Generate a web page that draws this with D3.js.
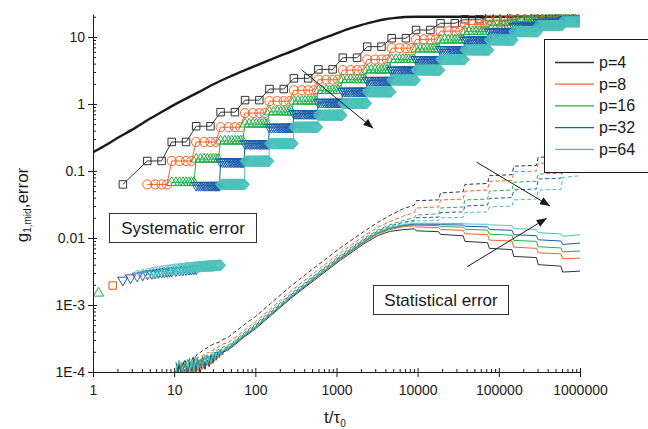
<!DOCTYPE html>
<html>
<head>
<meta charset="utf-8">
<script src="https://cdn.jsdelivr.net/npm/d3@7/dist/d3.min.js"></script>
<style>
  body { margin: 0; background: #fff; }
  svg { display: block; }
  text { font-family: "Liberation Sans", Arial, Helvetica, sans-serif; fill: #1a1a1a; }
</style>
</head>
<body>
<svg id="chart" width="648" height="429"></svg>
<script>
// ---------- data ----------
const pValues = [4, 8, 16, 32, 64];
const seriesColors = ["#333333", "#ff5f22", "#22b04b", "#1b5ca8", "#4ac2bb"];

// exact g1,mid curve
const exactT = [1, 1.5, 2, 3, 5, 7, 10, 20, 30, 50, 100, 200, 300, 500, 850, 1000, 1500, 2000, 3000, 4000, 5000, 7000, 10000, 100000, 1000000];
const exactV = [0.19, 0.25, 0.31, 0.41, 0.6, 0.76, 0.97, 1.5, 1.95, 2.6, 3.7, 5.2, 6.3, 8.2, 10.5, 11.3, 13.5, 15.0, 17.1, 18.4, 19.1, 19.8, 20.0, 20.0, 20.0];

// multiple-tau correlator: smallest lag, block k has lags (p/2 .. p-1) * lagUnit * 2^k
const lagUnit = 7 / 6;
// number of lags of the first block that carry a systematic error above the axis floor
const sysFirstBlockCount = [1, 4, 8, 16, 32];
// systematic error level of each correlator block, per p
const sysLevels4  = [0.063, 0.141, 0.271, 0.465, 0.754, 1.14, 1.67, 2.41, 3.28, 4.9, 7.16, 9.56, 12.7, 16.0, 18.4, 19.7, 20.4, 20.8, 21.0];
const sysLevels8  = [0.063, 0.141, 0.271, 0.45, 0.73, 1.1, 1.6, 2.3, 3.2, 4.6, 6.8, 9.2, 12.2, 15.4, 17.8, 19.2, 20.0, 20.4];
const sysLevels16 = [0.067, 0.150, 0.279, 0.50, 0.76, 1.1, 1.58, 2.3, 3.2, 4.6, 6.6, 9.0, 12.0, 14.8, 17.0, 18.4, 19.2];
const sysLevels32 = [0.061, 0.137, 0.256, 0.45, 0.72, 1.06, 1.55, 2.25, 3.2, 4.6, 6.5, 9.0, 11.8, 14.5, 16.6, 18.0];
const sysLevels64 = [0.063, 0.14, 0.256, 0.45, 0.68, 1.02, 1.52, 2.27, 3.2, 4.6, 6.4, 9.0, 12.0, 14.8, 16.8];

// short-time points
const earlyGreenT = [1.17];
const earlyGreenV = [1.5e-3];
const earlyOrangeT = [1.75];
const earlyOrangeV = [1.95e-3];
const earlyBlueT = [2.33, 2.9, 3.5, 4.1, 4.7, 5.3, 5.8, 6.4, 7, 7.6, 8.2, 8.8, 9.3, 10.5, 11.7, 12.8, 14, 15.2, 16.3, 17.5, 18.7];
const earlyBlueV = [2.35e-3, 2.55e-3, 2.7e-3, 2.8e-3, 2.9e-3, 2.95e-3, 3.0e-3, 3.05e-3, 3.1e-3, 3.12e-3, 3.15e-3, 3.18e-3, 3.2e-3, 3.25e-3, 3.3e-3, 3.33e-3, 3.36e-3, 3.4e-3, 3.42e-3, 3.45e-3, 3.47e-3];
const earlyTealT = [3.5, 4.1, 4.7, 5.3, 5.8, 6.4, 7.0, 7.6, 8.2, 8.8,
  9.3, 9.9, 10.5, 11.1, 11.7, 12.2, 12.8, 13.4, 14.0, 14.6,
  15.2, 15.8, 16.3, 16.9, 17.5, 18.1, 18.7, 19.3, 19.8, 20.4,
  21.0, 21.6, 22.2, 22.8, 23.3, 23.9, 24.5, 25.1, 25.7, 26.3,
  26.8, 27.4, 28.0, 28.6, 29.2, 29.8, 30.3, 30.9, 31.5, 32.1,
  32.7, 33.3, 33.8, 34.4, 35.0, 35.6, 36.2, 36.8, 37.3];
const earlyTealV = [2.75e-3, 2.88e-3, 2.98e-3, 3.06e-3, 3.12e-3, 3.18e-3, 3.23e-3, 3.27e-3, 3.31e-3, 3.35e-3,
  3.38e-3, 3.41e-3, 3.44e-3, 3.46e-3, 3.49e-3, 3.51e-3, 3.53e-3, 3.55e-3, 3.57e-3, 3.59e-3,
  3.6e-3, 3.62e-3, 3.63e-3, 3.65e-3, 3.66e-3, 3.67e-3, 3.69e-3, 3.7e-3, 3.71e-3, 3.72e-3,
  3.73e-3, 3.74e-3, 3.75e-3, 3.76e-3, 3.77e-3, 3.78e-3, 3.78e-3, 3.79e-3, 3.8e-3, 3.81e-3,
  3.81e-3, 3.82e-3, 3.83e-3, 3.83e-3, 3.84e-3, 3.85e-3, 3.85e-3, 3.86e-3, 3.86e-3, 3.87e-3,
  3.88e-3, 3.88e-3, 3.89e-3, 3.89e-3, 3.9e-3, 3.9e-3, 3.91e-3, 3.91e-3, 3.92e-3];

// statistical error curves (shared time grid)
const statT = [10.5, 11.5, 12.5, 13.5, 14.5, 15.5, 16.5, 17.5, 18.5, 19.5, 21, 22.5, 24, 25.5, 27, 28.5, 30, 31.5, 33, 34.5, 36, 37.5, 39, 41,
  45, 55, 72, 100, 154, 272, 582, 1127, 2183, 3200, 4500, 6500, 9080,
  9557, 18160, 19115, 36320, 38229, 72640, 76459, 145270, 152917, 290540, 305835, 581090, 611669, 1000000];

const statSolid4 = [0.7e-4, 1.3e-4, 0.8e-4, 1.1e-4, 0.75e-4, 1.35e-4, 0.9e-4, 1.2e-4, 0.95e-4, 1.45e-4, 1.0e-4, 1.4e-4, 1.1e-4, 1.5e-4, 1.2e-4, 1.6e-4, 1.35e-4, 1.7e-4, 1.5e-4, 1.8e-4, 1.65e-4, 1.9e-4, 1.8e-4, 2.0e-4,
  2.1e-4, 2.5e-4, 3.3e-4, 4.4e-4, 6.9e-4, 1.25e-3, 2.55e-3, 4.7e-3, 8.2e-3, 0.0108, 0.0125, 0.0133, 0.0137,
  0.0128, 0.0124, 0.0113, 0.0108, 0.0089, 0.0085, 0.0070, 0.0067, 0.0053, 0.0051, 0.0040, 0.0038, 0.0031, 0.0032];
const statSolid8 = [1.2e-4, 0.8e-4, 1.4e-4, 0.85e-4, 1.25e-4, 0.9e-4, 1.5e-4, 1.0e-4, 1.35e-4, 1.05e-4, 1.55e-4, 1.1e-4, 1.45e-4, 1.25e-4, 1.65e-4, 1.3e-4, 1.7e-4, 1.45e-4, 1.85e-4, 1.6e-4, 1.95e-4, 1.75e-4, 2.05e-4, 2.05e-4,
  2.2e-4, 2.6e-4, 3.4e-4, 4.6e-4, 7.1e-4, 1.3e-3, 2.65e-3, 4.9e-3, 8.6e-3, 0.0114, 0.0133, 0.0146, 0.0152,
  0.0146, 0.0143, 0.0134, 0.0130, 0.0116, 0.0112, 0.0093, 0.0090, 0.0073, 0.0070, 0.0060, 0.0058, 0.0049, 0.0050];
const statSolid16 = [0.9e-4, 1.45e-4, 0.95e-4, 1.3e-4, 1.0e-4, 1.6e-4, 0.95e-4, 1.4e-4, 1.1e-4, 1.6e-4, 1.15e-4, 1.5e-4, 1.2e-4, 1.75e-4, 1.3e-4, 1.6e-4, 1.5e-4, 1.9e-4, 1.55e-4, 1.95e-4, 1.7e-4, 2.1e-4, 1.85e-4, 2.1e-4,
  2.2e-4, 2.6e-4, 3.4e-4, 4.6e-4, 7.2e-4, 1.3e-3, 2.7e-3, 5.0e-3, 8.8e-3, 0.0117, 0.0137, 0.0151, 0.0157,
  0.0155, 0.0153, 0.0148, 0.0145, 0.0135, 0.0131, 0.0114, 0.0110, 0.0092, 0.0089, 0.0074, 0.0071, 0.0062, 0.0064];
const statSolid32 = [1.4e-4, 0.9e-4, 1.25e-4, 1.5e-4, 0.95e-4, 1.3e-4, 1.05e-4, 1.65e-4, 1.05e-4, 1.4e-4, 1.25e-4, 1.7e-4, 1.2e-4, 1.5e-4, 1.35e-4, 1.8e-4, 1.45e-4, 1.75e-4, 1.6e-4, 2.0e-4, 1.75e-4, 2.0e-4, 1.9e-4, 2.1e-4,
  2.25e-4, 2.65e-4, 3.45e-4, 4.7e-4, 7.3e-4, 1.32e-3, 2.72e-3, 5.05e-3, 8.9e-3, 0.0119, 0.0140, 0.0154, 0.0161,
  0.0161, 0.0160, 0.0158, 0.0156, 0.0150, 0.0146, 0.0134, 0.0130, 0.0112, 0.0108, 0.0094, 0.0090, 0.0080, 0.0084];
const statSolid64 = [1.0e-4, 1.5e-4, 1.1e-4, 0.95e-4, 1.55e-4, 1.05e-4, 1.45e-4, 1.1e-4, 1.7e-4, 1.2e-4, 1.45e-4, 1.3e-4, 1.8e-4, 1.3e-4, 1.6e-4, 1.4e-4, 1.85e-4, 1.55e-4, 1.8e-4, 1.7e-4, 2.05e-4, 1.8e-4, 2.0e-4, 2.15e-4,
  2.25e-4, 2.7e-4, 3.5e-4, 4.7e-4, 7.3e-4, 1.33e-3, 2.75e-3, 5.1e-3, 9.0e-3, 0.0120, 0.0142, 0.0157, 0.0165,
  0.0166, 0.0166, 0.0165, 0.0164, 0.0162, 0.0160, 0.0157, 0.0153, 0.0138, 0.0134, 0.0120, 0.0115, 0.0106, 0.0112];

const statDash4 = [1.0e-4, 1.4e-4, 1.15e-4, 1.5e-4, 1.3e-4, 1.6e-4, 1.5e-4, 1.75e-4, 1.7e-4, 1.9e-4, 1.95e-4, 2.1e-4, 2.2e-4, 2.3e-4, 2.45e-4, 2.5e-4, 2.6e-4, 2.65e-4, 2.7e-4, 2.75e-4, 2.8e-4, 2.9e-4, 3.0e-4, 3.1e-4,
  3.2e-4, 3.9e-4, 5.0e-4, 6.7e-4, 1.05e-3, 1.9e-3, 3.9e-3, 7.2e-3, 0.0125, 0.0170, 0.0215, 0.027, 0.031,
  0.036, 0.037, 0.047, 0.049, 0.063, 0.065, 0.085, 0.088, 0.118, 0.121, 0.16, 0.165, 0.215, 0.22];
const statDash8 = [0.9e-4, 1.3e-4, 1.05e-4, 1.35e-4, 1.15e-4, 1.45e-4, 1.3e-4, 1.55e-4, 1.45e-4, 1.65e-4, 1.65e-4, 1.8e-4, 1.8e-4, 1.95e-4, 1.95e-4, 2.1e-4, 2.1e-4, 2.25e-4, 2.25e-4, 2.35e-4, 2.4e-4, 2.5e-4, 2.55e-4, 2.65e-4,
  2.7e-4, 3.2e-4, 4.1e-4, 5.6e-4, 8.8e-4, 1.6e-3, 3.3e-3, 6.1e-3, 0.0107, 0.0144, 0.0175, 0.021, 0.024,
  0.028, 0.029, 0.037, 0.038, 0.050, 0.052, 0.070, 0.072, 0.097, 0.100, 0.13, 0.134, 0.175, 0.18];
const statDash16 = [0.85e-4, 1.25e-4, 1.0e-4, 1.3e-4, 1.1e-4, 1.4e-4, 1.25e-4, 1.45e-4, 1.35e-4, 1.55e-4, 1.5e-4, 1.65e-4, 1.65e-4, 1.8e-4, 1.8e-4, 1.9e-4, 1.95e-4, 2.05e-4, 2.05e-4, 2.15e-4, 2.2e-4, 2.25e-4, 2.3e-4, 2.4e-4,
  2.45e-4, 2.9e-4, 3.8e-4, 5.2e-4, 8.1e-4, 1.46e-3, 3.0e-3, 5.6e-3, 9.8e-3, 0.0131, 0.0157, 0.0182, 0.020,
  0.022, 0.023, 0.028, 0.029, 0.037, 0.038, 0.050, 0.052, 0.068, 0.070, 0.090, 0.093, 0.12, 0.125];
const statDash32 = [0.8e-4, 1.2e-4, 0.95e-4, 1.25e-4, 1.05e-4, 1.35e-4, 1.2e-4, 1.4e-4, 1.3e-4, 1.5e-4, 1.45e-4, 1.6e-4, 1.55e-4, 1.7e-4, 1.7e-4, 1.8e-4, 1.85e-4, 1.95e-4, 1.95e-4, 2.05e-4, 2.1e-4, 2.15e-4, 2.2e-4, 2.3e-4,
  2.35e-4, 2.8e-4, 3.65e-4, 5.0e-4, 7.7e-4, 1.4e-3, 2.9e-3, 5.35e-3, 9.4e-3, 0.0126, 0.0150, 0.0170, 0.0182,
  0.020, 0.0205, 0.024, 0.0245, 0.030, 0.031, 0.039, 0.040, 0.052, 0.054, 0.076, 0.078, 0.10, 0.105];
const statDash64 = [0.8e-4, 1.15e-4, 0.9e-4, 1.2e-4, 1.0e-4, 1.3e-4, 1.15e-4, 1.35e-4, 1.25e-4, 1.45e-4, 1.4e-4, 1.55e-4, 1.5e-4, 1.65e-4, 1.65e-4, 1.75e-4, 1.8e-4, 1.9e-4, 1.9e-4, 2.0e-4, 2.05e-4, 2.1e-4, 2.15e-4, 2.25e-4,
  2.3e-4, 2.75e-4, 3.6e-4, 4.85e-4, 7.5e-4, 1.37e-3, 2.83e-3, 5.25e-3, 9.25e-3, 0.0124, 0.0147, 0.0165, 0.0176,
  0.018, 0.0182, 0.020, 0.0203, 0.024, 0.0245, 0.029, 0.030, 0.037, 0.038, 0.052, 0.053, 0.080, 0.085];

// axis ticks
const xMajor = [1, 10, 100, 1000, 10000, 100000, 1000000];
const xTickText = ["1", "10", "100", "1000", "10000", "100000", "1000000"];
const yMajor = [1e-4, 1e-3, 0.01, 0.1, 1, 10];
const yTickText = ["1E-4", "1E-3", "0.01", "0.1", "1", "10"];

// annotation arrows, in data coordinates [t, value]
const arrowSys = [[372, 3.22], [2840, 0.434]];
const arrowStatDown = [[53300, 0.135], [427000, 0.0301]];
const arrowStatUp = [[40800, 3.73e-3], [389000, 0.0197]];

// ---------- layout ----------
const svg = d3.select("#chart");
const plotLeft = 93, plotRight = 580, plotTop = 14, plotBottom = 372;
const x = d3.scaleLog().domain([1, 1e6]).range([plotLeft, plotRight]);
const y = d3.scaleLog().domain([1e-4, 22]).range([plotBottom, plotTop]);

const defs = svg.append("defs");
defs.append("clipPath").attr("id", "plotClip")
  .append("rect").attr("x", plotLeft).attr("y", plotTop)
  .attr("width", plotRight - plotLeft).attr("height", plotBottom - plotTop);
defs.append("marker").attr("id", "arrowHead")
  .attr("viewBox", "0 0 10 8").attr("refX", 10).attr("refY", 4)
  .attr("markerWidth", 11).attr("markerHeight", 8).attr("markerUnits", "userSpaceOnUse")
  .attr("orient", "auto")
  .append("path").attr("d", "M0,0 L10,4 L0,8 Z").attr("fill", "#1a1a1a");

const plot = svg.append("g").attr("clip-path", "url(#plotClip)");

// marker shapes
const shapeSquare = d3.symbol().type(d3.symbolSquare).size(56)();
const shapeCircle = d3.symbol().type(d3.symbolCircle).size(66)();
const shapeTriUp = d3.symbol().type(d3.symbolTriangle).size(44)();
const diamondPath = "M0,-5.5L5,0L0,5.5L-5,0Z";
const shapes = [shapeSquare, shapeCircle, shapeTriUp, shapeTriUp, diamondPath];
const shapeRotate = [0, 0, 0, 180, 0];

const line = d3.line().x(d => x(d[0])).y(d => y(d[1]));

// ---------- statistical error curves ----------
const statSolid = [statSolid4, statSolid8, statSolid16, statSolid32, statSolid64];
const statDash = [statDash4, statDash8, statDash16, statDash32, statDash64];
statDash.forEach((vals, i) => {
  plot.append("path")
    .datum(statT.map((t, j) => [t, vals[j]]))
    .attr("d", line).attr("fill", "none")
    .attr("stroke", seriesColors[i]).attr("stroke-width", 1)
    .attr("stroke-dasharray", "4,2.5");
});
statSolid.forEach((vals, i) => {
  plot.append("path")
    .datum(statT.map((t, j) => [t, vals[j]]))
    .attr("d", line).attr("fill", "none")
    .attr("stroke", seriesColors[i]).attr("stroke-width", 1);
});

// ---------- short-time points ----------
function drawMarkers(pts, shape, rot, color) {
  plot.append("g").selectAll("path").data(pts).join("path")
    .attr("d", shape)
    .attr("transform", d => `translate(${x(d[0])},${y(d[1])}) rotate(${rot})`)
    .attr("fill", "none").attr("stroke", color).attr("stroke-width", 1);
}
drawMarkers(earlyGreenT.map((t, i) => [t, earlyGreenV[i]]), shapeTriUp, 0, seriesColors[2]);
drawMarkers(earlyOrangeT.map((t, i) => [t, earlyOrangeV[i]]), shapeSquare, 0, "#e8501c");
drawMarkers(earlyBlueT.map((t, i) => [t, earlyBlueV[i]]), shapeTriUp, 180, seriesColors[3]);
drawMarkers(earlyTealT.map((t, i) => [t, earlyTealV[i]]), diamondPath, 0, seriesColors[4]);

// ---------- exact curve ----------
plot.append("path")
  .datum(exactT.map((t, i) => [t, exactV[i]]))
  .attr("d", d3.line().x(d => x(d[0])).y(d => y(d[1])).curve(d3.curveMonotoneX))
  .attr("fill", "none").attr("stroke", "#1a1a1a").attr("stroke-width", 2.4);

// ---------- systematic error of the block correlator ----------
function sysPoints(p, levels, firstCount) {
  const pts = [];
  levels.forEach((v, k) => {
    const step = lagUnit * Math.pow(2, k);
    const jEnd = k === 0 ? p / 2 + firstCount : p;
    for (let j = p / 2; j < jEnd; j++) {
      const t = j * step;
      if (t <= 1e6) pts.push([t, v]);
    }
  });
  return pts;
}
const sysLevels = [sysLevels4, sysLevels8, sysLevels16, sysLevels32, sysLevels64];
sysLevels.forEach((levels, i) => {
  const pts = sysPoints(pValues[i], levels, sysFirstBlockCount[i]);
  plot.append("path").datum(pts).attr("d", line)
    .attr("fill", "none").attr("stroke", seriesColors[i]).attr("stroke-width", 1);
  drawMarkers(pts, shapes[i], shapeRotate[i], seriesColors[i]);
});

// ---------- axes ----------
function minorTicks(lo, hi) {
  const out = [];
  for (let e = Math.floor(Math.log10(lo)); e <= Math.ceil(Math.log10(hi)); e++) {
    for (let m = 2; m <= 9; m++) {
      const v = m * Math.pow(10, e);
      if (v >= lo && v <= hi) out.push(v);
    }
  }
  return out;
}
const axisStyle = g => {
  g.selectAll("line").attr("stroke", "#1a1a1a");
  g.selectAll(".domain").attr("stroke", "#1a1a1a");
  g.selectAll("text").attr("font-size", 14).attr("fill", "#1a1a1a")
    .attr("font-family", "'Liberation Sans', Arial, sans-serif");
};

svg.append("g").attr("transform", `translate(0,${plotBottom})`)
  .call(d3.axisBottom(x).tickValues(xMajor).tickFormat((d, i) => xTickText[i])
    .tickSize(5).tickSizeOuter(0).tickPadding(8)).call(axisStyle);
svg.append("g").attr("transform", `translate(0,${plotBottom})`)
  .call(d3.axisBottom(x).tickValues(xMajor).tickFormat("").tickSize(-4).tickSizeOuter(0))
  .call(g => g.select(".domain").remove()).call(axisStyle);
svg.append("g").attr("transform", `translate(0,${plotBottom})`)
  .call(d3.axisBottom(x).tickValues(minorTicks(1, 1e6)).tickFormat("").tickSize(-3).tickSizeOuter(0))
  .call(g => g.select(".domain").remove()).call(axisStyle);

svg.append("g").attr("transform", `translate(${plotLeft},0)`)
  .call(d3.axisLeft(y).tickValues(yMajor).tickFormat((d, i) => yTickText[i])
    .tickSize(5).tickSizeOuter(0).tickPadding(3)).call(axisStyle);
svg.append("g").attr("transform", `translate(${plotLeft},0)`)
  .call(d3.axisLeft(y).tickValues(yMajor).tickFormat("").tickSize(-4).tickSizeOuter(0))
  .call(g => g.select(".domain").remove()).call(axisStyle);
svg.append("g").attr("transform", `translate(${plotLeft},0)`)
  .call(d3.axisLeft(y).tickValues(minorTicks(1e-4, 22)).tickFormat("").tickSize(-3).tickSizeOuter(0))
  .call(g => g.select(".domain").remove()).call(axisStyle);

// axis titles
const yTitle = svg.append("text")
  .attr("transform", "translate(28,205) rotate(-90)")
  .attr("text-anchor", "middle").attr("font-size", 17);
yTitle.append("tspan").text("g");
yTitle.append("tspan").attr("font-size", 10).attr("dy", 3).text("1,mid");
yTitle.append("tspan").attr("dy", -3).text(",error");

const xTitle = svg.append("text").attr("x", 324).attr("y", 423).attr("font-size", 17);
xTitle.append("tspan").text("t/\u03c4");
xTitle.append("tspan").attr("font-size", 10).attr("dy", 4).text("0");

// ---------- annotations ----------
[arrowSys, arrowStatDown, arrowStatUp].forEach(a => {
  svg.append("line")
    .attr("x1", x(a[0][0])).attr("y1", y(a[0][1]))
    .attr("x2", x(a[1][0])).attr("y2", y(a[1][1]))
    .attr("stroke", "#1a1a1a").attr("stroke-width", 1)
    .attr("marker-end", "url(#arrowHead)");
});

function labelBox(cx, bx, by, bw, bh, baseline, txt) {
  svg.append("rect").attr("x", bx).attr("y", by).attr("width", bw).attr("height", bh)
    .attr("fill", "#fff").attr("stroke", "#333").attr("stroke-width", 1);
  svg.append("text").attr("x", cx).attr("y", baseline)
    .attr("text-anchor", "middle").attr("font-size", 17).text(txt);
}
labelBox(183, 109.5, 213.5, 147, 29, 234, "Systematic error");
labelBox(441, 373.5, 285.5, 135, 29, 306, "Statistical error");

// ---------- legend ----------
const legend = svg.append("g");
legend.append("rect").attr("x", 544.5).attr("y", 39.5).attr("width", 120).attr("height", 133)
  .attr("fill", "#fff").attr("stroke", "#1a1a1a").attr("stroke-width", 1);
pValues.forEach((p, i) => {
  const ly = 62.5 + i * 21.7;
  legend.append("line").attr("x1", 555).attr("x2", 594).attr("y1", ly).attr("y2", ly)
    .attr("stroke", seriesColors[i]).attr("stroke-width", 1.3);
  legend.append("text").attr("x", 599).attr("y", ly + 5.5).attr("font-size", 16).text("p=" + p);
});
</script>
</body>
</html>
